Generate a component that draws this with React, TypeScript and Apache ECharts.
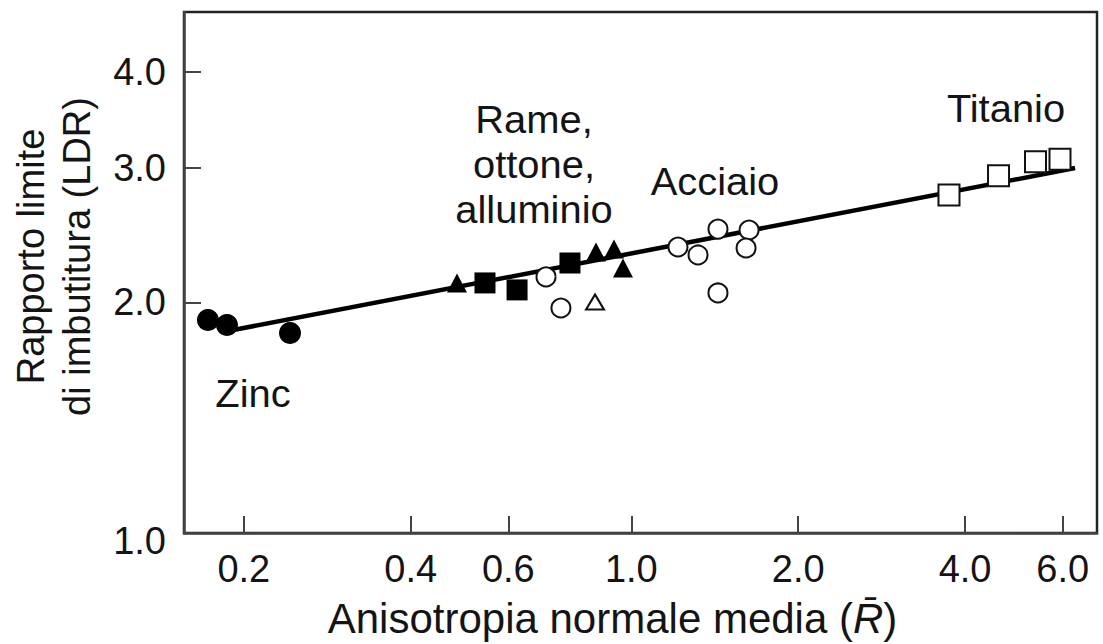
import React, { useEffect, useRef } from "react";
import * as echarts from "echarts";

// Tick values
const xTicks = [0.2, 0.4, 0.6, 1.0, 2.0, 4.0, 6.0];
const yTicks = [1.0, 2.0, 3.0, 4.0];

// Data: [R (normal anisotropy), LDR]
const zinc = [[0.1723, 1.897], [0.1865, 1.869], [0.2423, 1.825]];
const copperSquares = [[0.5446, 2.121], [0.6222, 2.077], [0.7751, 2.252]];
const copperTriangles = [[0.4848, 2.121], [0.8636, 2.328], [0.9307, 2.349], [0.9661, 2.218]];
const openTriangle = [[0.8601, 2.003]];
const steel = [
  [0.7017, 2.16], [0.7466, 1.967], [1.214, 2.363], [1.3194, 2.307],
  [1.4334, 2.494], [1.631, 2.487], [1.6108, 2.356], [1.4334, 2.058],
];
const titanium = [[3.742, 2.763], [4.597, 2.928], [5.36, 3.054], [5.934, 3.076]];
const fitLine = [[0.1834, 1.83], [6.317, 2.996]];

const FONT = "'Liberation Sans', Arial, Helvetica, sans-serif";
const TXT = "#141414";

export default function App() {
  const ref = useRef<HTMLDivElement>(null);
  useEffect(() => {
    if (!ref.current) return;
    const chart = echarts.init(ref.current, undefined, { renderer: "svg" });
    const fs = 38;
    const markerBase = { type: "scatter", z: 5, silent: true, emphasis: { disabled: true } };
    const solid = { color: "#000", opacity: 1 };
    const open = { color: "#fff", borderColor: "#111", borderWidth: 2, opacity: 1 };
    const label = (text: string, x: number, y: number, extra: any = {}) => ({
      type: "text", x, y, scaleX: 1.05, silent: true,
      style: { text, font: `${fs}px ${FONT}`, fill: TXT, align: "center", verticalAlign: "middle", ...extra },
    });
    chart.setOption({
      animation: false,
      backgroundColor: "#fff",
      grid: {
        left: 184, right: 6, top: 12, bottom: 111,
        containLabel: false, outerBoundsMode: "none",
        show: true, borderColor: "#222", borderWidth: 2.5, backgroundColor: "transparent",
      },
      xAxis: {
        type: "log", min: 0.156, max: 6.92, logBase: 10,
        name: "Anisotropia normale media ({it|R\u0304})",
        nameLocation: "middle", nameGap: 64,
        nameTextStyle: {
          fontFamily: FONT, fontSize: 42, color: TXT, padding: [0, 56, 0, 0],
          rich: { it: { fontFamily: FONT, fontSize: 42, color: TXT, fontStyle: "italic" } },
        },
        axisLine: { show: true, lineStyle: { color: "#444", width: 2.5 } },
        axisTick: { show: true, inside: true, length: 17, customValues: xTicks, lineStyle: { color: "#444", width: 2 } },
        axisLabel: {
          customValues: xTicks, margin: 17, fontFamily: FONT, fontSize: fs, color: TXT,
          formatter: (v: number) => v.toFixed(1),
        },
        splitLine: { show: false }, minorTick: { show: false },
      },
      yAxis: {
        type: "log", min: 1, max: 4.79, logBase: 10,
        name: "Rapporto limite\ndi imbutitura (LDR)",
        nameLocation: "middle", nameRotate: 90, nameGap: 84,
        nameTextStyle: { fontFamily: FONT, fontSize: fs, color: TXT, lineHeight: 46, padding: [0, 0, 0, 32] },
        axisLine: { show: true, lineStyle: { color: "#444", width: 2.5 } },
        axisTick: { show: true, inside: true, length: 17, customValues: yTicks.slice(1), lineStyle: { color: "#444", width: 2 } },
        axisLabel: {
          customValues: yTicks, margin: 18, fontFamily: FONT, fontSize: fs, color: TXT,
          formatter: (v: number) => (v === 1 ? `{low|${v.toFixed(1)}}` : v.toFixed(1)),
          rich: { low: { fontFamily: FONT, fontSize: fs, color: TXT, padding: [16, 0, 0, 0] } },
        },
        splitLine: { show: false }, minorTick: { show: false },
      },
      series: [
        {
          type: "line", data: fitLine, symbol: "none", z: 2, silent: true,
          lineStyle: { color: "#000", width: 4.5 },
        },
        { ...markerBase, name: "Zinco", data: zinc, symbol: "circle", symbolSize: 22, itemStyle: solid },
        { ...markerBase, name: "Rame quadrati", data: copperSquares, symbol: "rect", symbolSize: 21, itemStyle: solid },
        { ...markerBase, name: "Rame triangoli", data: copperTriangles, symbol: "triangle", symbolSize: [20, 19], itemStyle: solid },
        { ...markerBase, name: "Triangolo aperto", data: openTriangle, symbol: "triangle", symbolSize: [18, 15], itemStyle: open },
        { ...markerBase, name: "Acciaio", data: steel, symbol: "circle", symbolSize: 19, itemStyle: open },
        { ...markerBase, name: "Titanio", data: titanium, symbol: "rect", symbolSize: 21, itemStyle: open },
      ],
      graphic: [
        label("Zinc", 253, 394),
        label("Rame,\nottone,\nalluminio", 534, 165, { lineHeight: 45 }),
        label("Acciaio", 715, 182),
        label("Titanio", 1006, 109),
      ],
    });
    return () => chart.dispose();
  }, []);
  return <div ref={ref} style={{ position: "absolute", left: 0, top: 0, width: 1103, height: 644 }} />;
}
